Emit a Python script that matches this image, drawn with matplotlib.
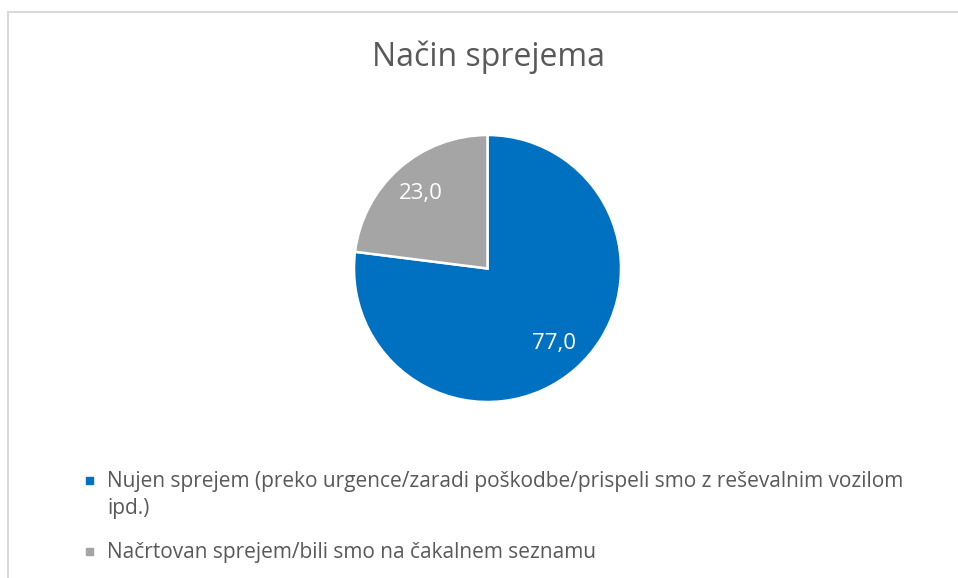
import matplotlib
matplotlib.use("Agg")
import matplotlib.pyplot as plt
from matplotlib.patches import Rectangle
from matplotlib.lines import Line2D

W, H = 958, 578

title = "Način sprejema"
labels = ["Nujen sprejem (preko urgence/zaradi poškodbe/prispeli smo z reševalnim vozilom\nipd.)",
          "Načrtovan sprejem/bili smo na čakalnem seznamu"]
values = [77.0, 23.0]
colors = ["#0070C0", "#A5A5A5"]

plt.rcParams['font.family'] = ['Open Sans', 'DejaVu Sans']
text_col = "#595959"

fig = plt.figure(figsize=(W / 100, H / 100), dpi=100)


def px(x, y):
    # pixel coords (top-left origin) -> figure fraction
    return x / W, 1 - y / H


# chart border (top and left only visible)
fig.add_artist(Line2D([8 / W, 1], [1 - 11.5 / H] * 2, color="#D9D9D9", lw=1.5))
fig.add_artist(Line2D([8 / W] * 2, [0, 1 - 11.5 / H], color="#D9D9D9", lw=1.5))

# pie
cx, cy, r = 487.5, 268.5, 133.5
ax = fig.add_axes([(cx - r) / W, 1 - (cy + r) / H, 2 * r / W, 2 * r / H])
wedges, _, autotexts = ax.pie(values, colors=colors, startangle=90, counterclock=False,
                              autopct=lambda p: "{:.1f}".format(p).replace(".", ","),
                              pctdistance=0.75,
                              wedgeprops=dict(edgecolor="white", linewidth=1.8),
                              textprops=dict(color="white", fontsize=16))
ax.set_xlim(-1, 1)
ax.set_ylim(-1, 1)
ax.set_aspect("equal")
ax.axis("off")

# title
fig.text(*px(488, 57), title, ha="center", va="center", fontsize=23, color=text_col)

# legend
leg_y = [480, 551]
for lab, col, y in zip(labels, colors, leg_y):
    x0, y0 = px(86, y + 4)
    fig.add_artist(Rectangle((x0, y0), 7 / W, 7 / H, color=col, transform=fig.transFigure))
    fig.text(*px(107, y - 9), lab, ha="left", va="top", fontsize=15, color=text_col,
             linespacing=1.35)

fig.savefig("out.png", dpi=100)
